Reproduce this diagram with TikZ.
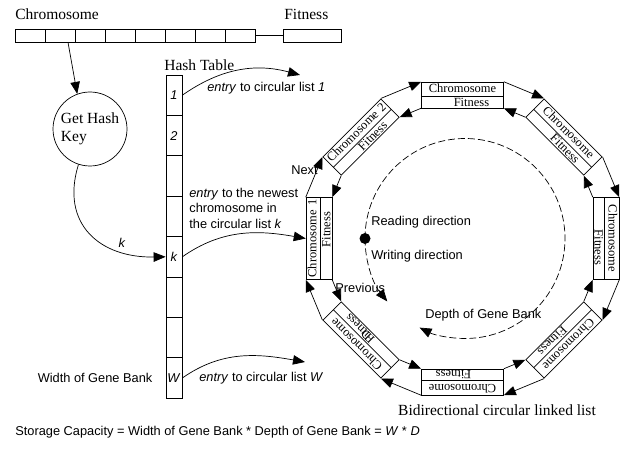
\documentclass[tikz,border=0pt]{standalone}
\usepackage{fontspec}
\setmainfont{Liberation Serif}
\setsansfont{Liberation Sans}
\usetikzlibrary{arrows.meta,shapes.multipart,positioning,calc}

\tikzset{
    serif label/.style={font=\fontsize{15.5}{18}\selectfont,inner sep=1pt},
    sans label/.style={font=\sffamily\fontsize{12.8}{15.5}\selectfont,inner sep=1pt},
    gene/.style={draw,rectangle split,rectangle split parts=2,text width=80pt,align=center,
                 inner xsep=1pt,inner ysep=1pt,text height=9pt,text depth=3pt,
                 font=\fontsize{12.5}{14}\selectfont}
}

\begin{document}
\begin{tikzpicture}[x=1pt,y=1pt,line width=0.7pt,>={Triangle[length=12pt,width=9.5pt]}]
\useasboundingbox (0,0) rectangle (626,448);

\begin{scope}[every node/.style={draw,minimum height=13pt,minimum width=30pt,inner sep=0pt}]
    \foreach \i in {1,...,8}
        \node (c\i) at (30*\i,412.5) {};
    \node[minimum width=58pt] (fit) at (312,412.5) {};
\end{scope}
\draw (c8.east) -- (fit.west);

\begin{scope}[every node/.style={draw,minimum height=40.4pt,minimum width=16pt,inner sep=0pt}]
    \foreach \i in {1,...,8}
        \node (h\i) at (174,393.2-40.4*\i) {};
\end{scope}

\begin{scope}[every node/.style={sans label}]
    \node at (h1) {\textit{1}};
    \node at (h2) {\textit{2}};
    \node at (h5) {\textit{k}};
    \node at (h8) {\textit{W}};
    \node[left=12pt of h8] (width) {Width of Gene Bank};
    \node[anchor=west] (ent1) at (206,360) {\textit{entry} to circular list \textit{1}};
    \node[anchor=west,align=left] (entk) at (188,240) {\textit{entry} to the newest\\chromosome in\\the circular list \textit{k}};
    \node[anchor=west] (entW) at (198,70) {\textit{entry} to circular list \textit{W}};
    \node (klab) at (122,205) {\textit{k}};
    \node[anchor=east] (next) at (319,278) {Next};
    \node[anchor=west] (prev) at (334,160) {Previous};
    \node[anchor=west] (read) at (370,226) {Reading direction};
    \node[anchor=west] (write) at (370,192) {Writing direction};
    \node[anchor=west] (depth) at (424,133) {Depth of Gene Bank};
    \node[anchor=west] (storage) at (14,16) {Storage Capacity = Width of Gene Bank * Depth of Gene Bank = \textit{W} * \textit{D}};
\end{scope}

\begin{scope}[every node/.style={serif label}]
    \node[anchor=west] (chrlab) at (14,434) {Chromosome};
    \node[anchor=west] (fitlab) at (283,434) {Fitness};
    \node[anchor=west] (htlab) at (163,383) {Hash Table};
    \node[draw,circle,minimum size=74pt,inner sep=0pt,align=left] (key) at (90,319) {Get Hash\\Key};
    \node (bidir) at (497,38) {Bidirectional circular linked list};
\end{scope}

% circular list
\coordinate (ring) at (462.5,209.5);
\foreach \k/\txt in {0/Chromosome 1,1/Chromosome 2,2/Chromosome,3/Chromosome,
                     4/Chromosome,5/Chromosome,6/Chromosome,7/Chromosome D}
    \node[gene,rotate=90-45*\k] (g\k) at ($(ring)+(180-45*\k:143.5)$) {\txt\nodepart{two}\hspace*{18pt}Fitness};

\foreach \k in {0,...,7} {
    \pgfmathtruncatemacro{\n}{mod(\k+1,8)}
    \draw[->] (g\k.north east) -- (g\n.north west);
    \draw[->] (g\n.south west) -- (g\k.south east);
}

\coordinate (e1) at (300,373);
\coordinate (eW) at (305,86);
\draw[->] (c2.south) ++(8,0) -- (key.110);
\draw[->] (key.-108) .. controls (60,224) and (100,190) .. (h5.west);
\draw[->] (h1.east) to[out=35,in=165] (e1);
\draw[->] (h5.east) to[out=35,in=170] (g0.north);
\draw[->] (h8.east) to[out=35,in=170] (eW);

\coordinate (dc) at (465,209.5);
\node[circle,fill=black,minimum size=11pt,inner sep=0pt] (dot) at (365,209.5) {};
\draw[->,dash pattern=on 7pt off 3pt] (dot.center) arc[start angle=180,end angle=219,radius=100];
\draw[->,dash pattern=on 7pt off 3pt] (dot.center) arc[start angle=180,end angle=-117,radius=100];
\end{tikzpicture}
\end{document}
